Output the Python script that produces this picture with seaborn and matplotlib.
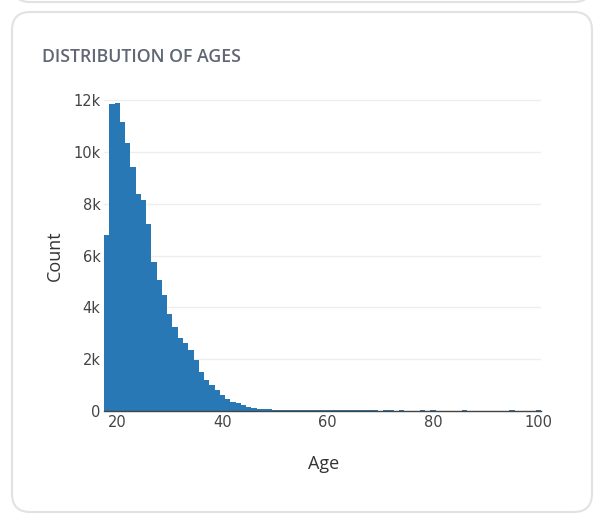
import matplotlib
matplotlib.use('Agg')
import matplotlib.pyplot as plt
from matplotlib.patches import FancyBboxPatch
from matplotlib.ticker import FuncFormatter
import seaborn as sns
import pandas as pd

# counts per age
ages_main = list(range(18, 50))
counts_main = [6810, 11850, 11910, 11150, 10340, 9410, 8400, 8170, 7240, 5770,
               5070, 4490, 3750, 3250, 2820, 2630, 2360, 1970, 1500, 1190,
               1000, 810, 620, 460, 360, 310, 230, 155, 100, 80, 78, 75]
ages_tail = list(range(50, 70))
counts_tail = [45, 44, 42, 41, 40, 39, 38, 37, 36, 35,
               34, 33, 32, 31, 30, 30, 29, 28, 28, 27]
ages_rare = [71, 72, 74, 78, 80, 86, 95, 100]
counts_rare = [35, 35, 30, 30, 35, 30, 30, 35]

y_ticks = [0, 2000, 4000, 6000, 8000, 10000, 12000]
x_ticks = [20, 40, 60, 80, 100]

df = pd.DataFrame({
    'Age': ages_main + ages_tail + ages_rare,
    'Count': counts_main + counts_tail + counts_rare,
})

sns.set_style('white')
plt.rcParams['font.family'] = ['Open Sans', 'DejaVu Sans']

W, H = 609, 522
fig = plt.figure(figsize=(W / 100, H / 100), dpi=100)


def px(x, y):
    return x / W, 1 - y / H


# card outlines (the one above is only partly visible)
top_card = FancyBboxPatch((12 / W, 1 - 2 / H), 580 / W, 60 / H,
                          boxstyle='round,pad=0,rounding_size=0.03',
                          transform=fig.transFigure, facecolor='white',
                          edgecolor='#e2e2e2', linewidth=1.5, zorder=-2,
                          mutation_aspect=W / H)
fig.patches.append(top_card)
card = FancyBboxPatch((12 / W, 1 - 512 / H), 580 / W, 500 / H,
                      boxstyle='round,pad=0,rounding_size=0.03',
                      transform=fig.transFigure, facecolor='white',
                      edgecolor='#e2e2e2', linewidth=1.5, zorder=-2,
                      mutation_aspect=W / H)
fig.patches.append(card)

left, bottom = 104 / W, 1 - 411 / H
ax = fig.add_axes([left, bottom, 437 / W, (411 - 90) / H])
ax.set_zorder(2)
ax.patch.set_alpha(0)

sns.histplot(data=df, x='Age', weights='Count', discrete=True,
             color='#2878b5', alpha=1, linewidth=0, ax=ax, zorder=3)

ax.set_xlim(17.5, 100.5)
ax.set_ylim(0, 12400)
ax.set_yticks(y_ticks)
ax.set_xticks(x_ticks)
ax.yaxis.set_major_formatter(FuncFormatter(
    lambda v, p: '0' if v == 0 else f'{int(v / 1000)}k'))
ax.grid(axis='y', color='#eeeeee', linewidth=1, zorder=0)
ax.grid(axis='x', visible=False)
ax.set_axisbelow(True)
for s in ['top', 'right', 'left']:
    ax.spines[s].set_visible(False)
ax.spines['bottom'].set_color('#444444')
ax.spines['bottom'].set_linewidth(1)
ax.spines['bottom'].set_zorder(4)
ax.tick_params(axis='both', length=0, colors='#444444')
ax.tick_params(axis='y', pad=2.5)
ax.tick_params(axis='x', pad=3)
for lab in ax.get_xticklabels() + ax.get_yticklabels():
    lab.set_fontfamily('DejaVu Sans')
    lab.set_fontsize(10.5)

ax.set_xlabel('')
ax.set_ylabel('')
fig.text(*px(55, 256), 'Count', rotation=90, ha='center', va='center',
         fontsize=13, color='#333333')
fig.text(*px(324, 464), 'Age', ha='center', va='center',
         fontsize=13, color='#333333')
fig.text(*px(42, 57), 'DISTRIBUTION OF AGES', ha='left', va='center',
         fontsize=12.8, fontweight='semibold', color='#5f6874')

fig.savefig('out.png', dpi=100)
